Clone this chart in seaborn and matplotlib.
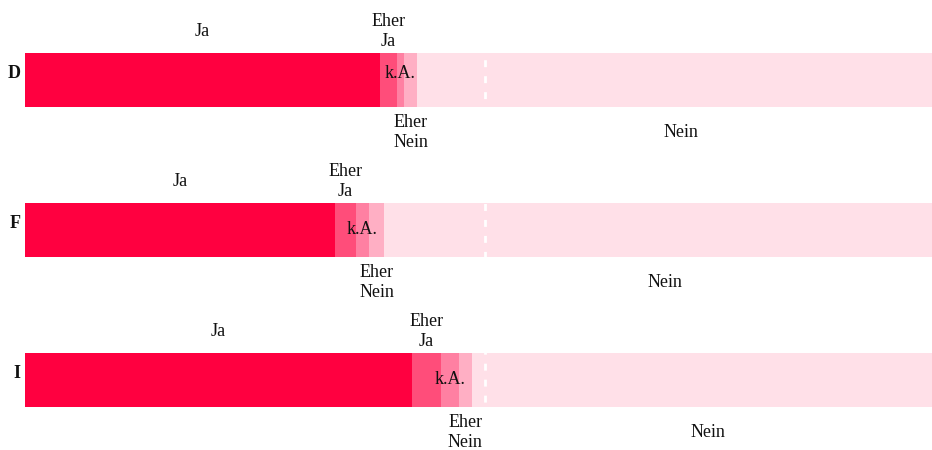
import matplotlib
matplotlib.use("Agg")
import matplotlib.pyplot as plt
import seaborn as sns
import pandas as pd
import numpy as np

# ---- data (percent) ----
countries = ["D", "F", "I"]
ja = [38.6, 33.7, 42.1]
eher_ja = [1.8, 2.25, 3.1]
ka = [0.8, 1.45, 1.95]
eher_nein = [1.4, 1.65, 1.4]
nein = [57.4, 60.95, 51.45]

segment_names = ["Ja", "Eher\nJa", "k.A.", "Eher\nNein", "Nein"]
colors = ["#ff0040", "#ff4d7a", "#ff80a2", "#ffafc4", "#ffe0e8"]
label_pos = ["above", "above", "inside", "below", "below"]
ka_dy = [-5, 0, 0]  # points, vertical nudge of the k.A. label per row

sns.set_theme(style="white")
plt.rcParams["font.family"] = ["Liberation Serif", "DejaVu Serif"]
plt.rcParams["lines.scale_dashes"] = False

W, H = 932, 450
fig = plt.figure(figsize=(W / 100, H / 100), dpi=100)
# axes spans beyond right edge: 0..100 maps to x=25..945 px (clipped by figure)
ax = fig.add_axes([25 / W, 0, 920 / W, 1])

series = [ja, eher_ja, ka, eher_nein, nein]
values = np.array(series)           # shape (5, 3)
cum = np.cumsum(values, axis=0)     # cumulative right edges

# draw from the outermost cumulative layer inwards
for i in range(len(series) - 1, -1, -1):
    df = pd.DataFrame({"country": countries, "value": cum[i]})
    sns.barplot(data=df, y="country", x="value", orient="h", color=colors[i],
                saturation=1, width=0.36, ax=ax, linewidth=0, edgecolor="none")

# unit per category = 150 px; first bar centre at 80 px
ax.set_ylim((H - 80) / 150, -80 / 150)
ax.set_xlim(0, 100)

ax.axvline(50, color="white", linewidth=2, dashes=(5, 6.5))

fs = 13
for j, c in enumerate(countries):
    for i, name in enumerate(segment_names):
        left = cum[i][j] - values[i][j]
        xc = left + values[i][j] / 2
        dy = 0
        if label_pos[i] == "above":
            y = j - 0.18 - 0.145
        elif label_pos[i] == "below":
            y = j + 0.18 + 0.172
        else:
            y = j
            dy = ka_dy[j]
        ax.annotate(name, xy=(xc, y), xytext=(0, -dy), textcoords="offset points",
                    ha="center", va="center", fontsize=fs,
                    linespacing=1.22, color="#111111")
    ax.annotate(c, xy=(0, j), xytext=(-3, 5), textcoords="offset points",
                ha="right", va="center", fontsize=fs, fontweight="bold",
                color="#111111", annotation_clip=False)

ax.set_xlabel("")
ax.set_ylabel("")
ax.set_xticks([])
ax.set_yticks([])
for s in ax.spines.values():
    s.set_visible(False)
ax.patch.set_alpha(0)

fig.savefig("out.png", dpi=100)
